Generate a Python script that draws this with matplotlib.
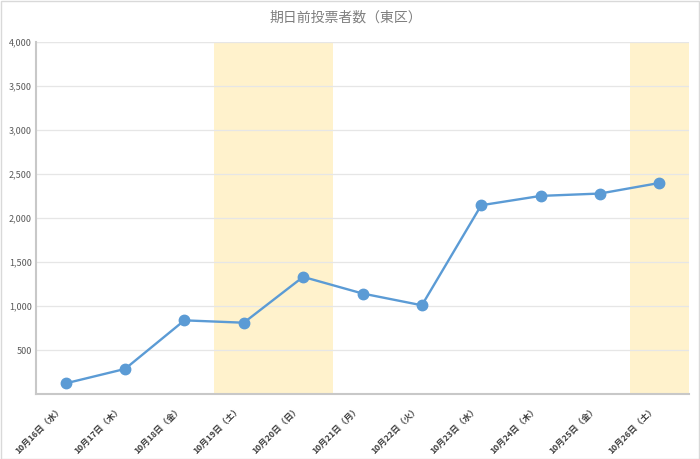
import matplotlib
matplotlib.use('Agg')
from matplotlib import pyplot as plt
from matplotlib import transforms
import numpy as np

# データ
days = ['10月16日（水）', '10月17日（木）', '10月18日（金）', '10月19日（土）',
        '10月20日（日）', '10月21日（月）', '10月22日（火）', '10月23日（水）',
        '10月24日（木）', '10月25日（金）', '10月26日（土）']
voters = [121, 285, 837, 810, 1331, 1142, 1008, 2145, 2251, 2278, 2398]
holiday = [0, 0, 0, 1, 1, 0, 0, 0, 0, 0, 1]
y_ticks = [500, 1000, 1500, 2000, 2500, 3000, 3500, 4000]
title = '期日前投票者数（東区）'

plt.rcParams['font.family'] = ['Noto Sans CJK JP', 'DejaVu Sans']

fig = plt.figure(figsize=(7, 4.59), dpi=100)
ax = fig.add_axes([36 / 700, 1 - 394 / 459, 653 / 700, 352 / 459])

x = np.arange(len(days))
ymax = 4000

# 土日の背景
band = [ymax if h else 0 for h in holiday]
ax.bar(x, band, width=1.0, color='#fff2cc', edgecolor='none', zorder=1)

# 折れ線
ax.plot(x, voters, color='#5b9bd5', linewidth=1.7, marker='o', markersize=7.5,
        markeredgecolor='#5b9bd5', zorder=3)

ax.set_xlim(-0.5, len(days) - 0.5)
ax.set_ylim(0, ymax)
ax.set_yticks(y_ticks)
ax.set_yticklabels([f'{v:,}' for v in y_ticks], fontsize=6.5, color='#595959')
ax.yaxis.grid(True, color='#e6e6e6', linewidth=0.9, zorder=0)
ax.axhline(ymax, color='#c8c8c8', linewidth=1.5, zorder=0.5)
ax.tick_params(axis='both', length=0, pad=3)

ax.set_xticks(x)
ax.set_xticklabels(days, rotation=45, ha='right', va='top', fontsize=6.2,
                   color='#404040', fontweight='bold')
offset = transforms.ScaledTranslation(-1 / 100, -6 / 100, fig.dpi_scale_trans)
for lbl in ax.get_xticklabels():
    lbl.set_transform(lbl.get_transform() + offset)

for side in ['top', 'right']:
    ax.spines[side].set_visible(False)
for side in ['left', 'bottom']:
    ax.spines[side].set_color('#c8c8c8')
    ax.spines[side].set_linewidth(1.5)

fig.text(346 / 700, 1 - 18 / 459, title, ha='center', va='center',
         fontsize=10, color='#7f7f7f')

# 外枠
fig.patches.append(plt.Rectangle((0.001, 0.001), 0.997, 0.997, transform=fig.transFigure,
                                 fill=False, edgecolor='#d9d9d9', linewidth=1))

fig.savefig('out.png', dpi=100)
